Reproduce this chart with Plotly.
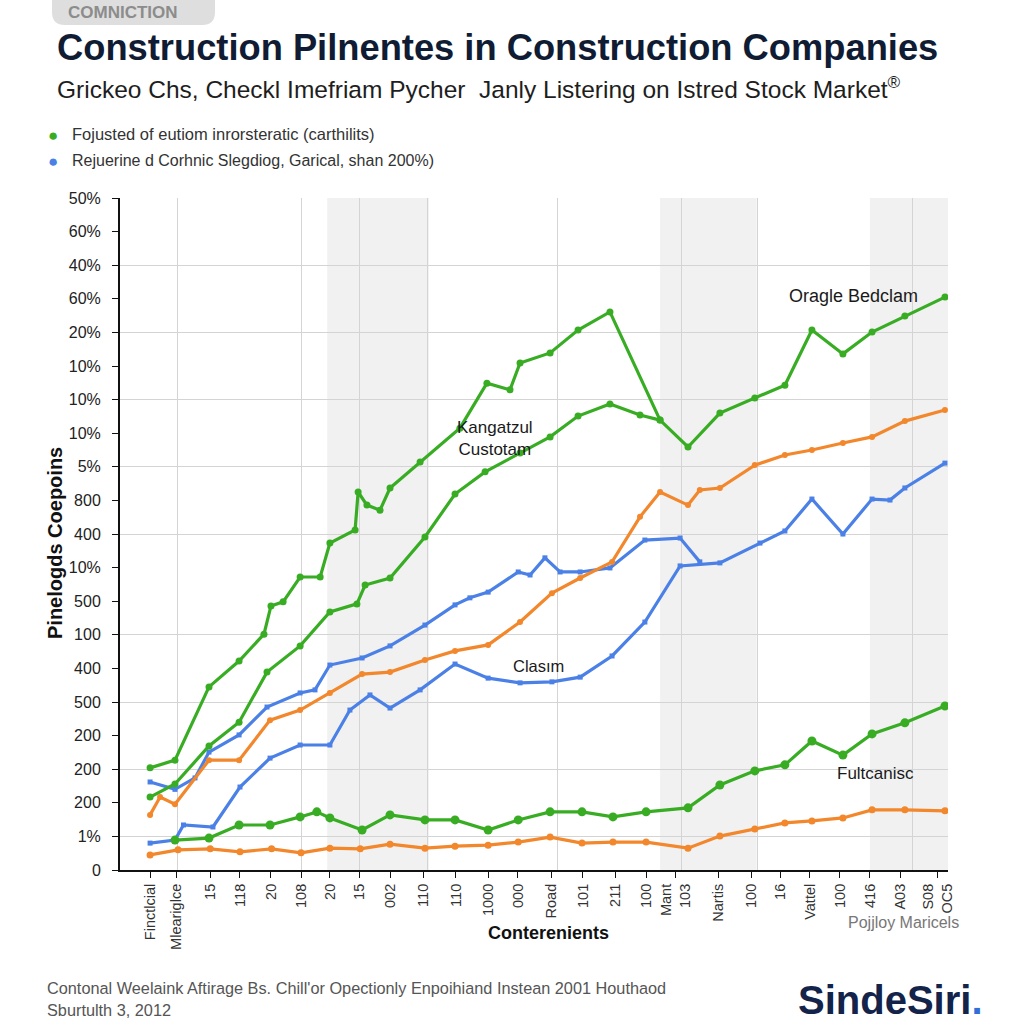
import plotly.graph_objects as go

# ---------------- data ----------------
y_tick_labels = ["0", "1%", "200", "200", "200", "500", "400", "100", "500", "10%", "400",
                 "800", "5%", "10%", "10%", "10%", "20%", "60%", "40%", "60%", "50%"]
y_tick_vals = list(range(21))
y_grid_vals = [1, 3, 5, 7, 10, 12, 14, 16, 18, 20]

x_tick_labels = ["Finctlcial", "Mleariglce", "15", "118", "20", "108", "20", "15", "002", "110",
                 "110", "1000", "000", "Road", "101", "211", "100", "Mant<br>103", "Nartis", "100",
                 "16", "Vattel", "100", "416", "A03", "S08<br>OC5"]
x_tick_vals = [0, 0.86, 1.98, 2.96, 3.98, 4.97, 5.92, 6.88, 7.90, 8.99, 10.07, 11.13, 12.11,
               13.20, 14.25, 15.31, 16.33, 17.31, 18.70, 19.81, 20.74, 21.72, 22.71, 23.70,
               24.69, 25.94]
x_grid_vals = [0.9, 5.0, 6.9, 9.15, 13.4, 17.5, 20.0, 25.1]
bands = [(5.83, 9.18), (16.79, 19.97), (23.70, 26.27)]

green1_x = [0, 0.82, 1.94, 2.93, 3.75, 3.98, 4.38, 4.94, 5.60, 5.92, 6.75, 6.85, 7.14, 7.57, 7.90,
            8.89, 10.2, 11.09, 11.85, 12.18, 13.17, 14.09, 15.14, 16.79, 17.71, 18.76, 19.91,
            20.9, 21.79, 22.81, 23.77, 24.85, 26.17]
green1_y = [3.04, 3.27, 5.45, 6.22, 7.02, 7.86, 7.98, 8.72, 8.72, 9.73, 10.12, 11.25, 10.86, 10.71,
            11.37, 12.14, 13.15, 14.49, 14.29, 15.09, 15.39, 16.07, 16.61, 13.39, 12.59, 13.6,
            14.05, 14.43, 16.07, 15.36, 16.01, 16.49, 17.05]

green2_x = [0, 0.82, 1.94, 2.93, 3.85, 4.94, 5.92, 6.81, 7.08, 7.90, 9.05, 10.04, 11.03, 12.18,
            13.17, 14.09, 15.14, 16.13, 16.79]
green2_y = [2.17, 2.56, 3.69, 4.40, 5.89, 6.67, 7.68, 7.92, 8.48, 8.69, 9.91, 11.19, 11.85, 12.41,
            12.89, 13.51, 13.87, 13.54, 13.39]

green3_x = [0.82, 1.94, 2.93, 3.95, 4.94, 5.49, 5.92, 6.98, 7.90, 9.05, 10.04, 11.13, 12.12,
            13.17, 14.22, 15.24, 16.33, 17.71, 18.76, 19.91, 20.9, 21.79, 22.81, 23.77, 24.85, 26.17]
green3_y = [0.89, 0.95, 1.34, 1.34, 1.58, 1.73, 1.55, 1.19, 1.64, 1.49, 1.49, 1.19, 1.49, 1.73,
            1.73, 1.58, 1.73, 1.85, 2.53, 2.95, 3.13, 3.84, 3.42, 4.05, 4.38, 4.88]

blue1_x = [0, 0.82, 1.48, 1.94, 2.93, 3.85, 4.94, 5.43, 5.92, 6.98, 7.90, 9.05, 10.04, 10.53,
           11.13, 12.12, 12.51, 13.0, 13.5, 14.16, 15.14, 16.29, 17.45, 18.1]
blue1_y = [2.62, 2.40, 2.74, 3.51, 4.02, 4.85, 5.27, 5.36, 6.10, 6.31, 6.67, 7.29, 7.89, 8.10,
           8.27, 8.87, 8.78, 9.29, 8.87, 8.87, 8.99, 9.82, 9.88, 9.17]

blue2_x = [0, 0.82, 1.10, 2.07, 2.96, 3.95, 4.94, 5.92, 6.58, 7.24, 7.90, 8.89, 10.04, 11.13,
           12.18, 13.23, 14.16, 15.21, 16.29, 17.45, 18.76, 20.08, 20.9, 21.79, 22.81, 23.77,
           24.36, 24.85, 26.17]
blue2_y = [0.80, 0.89, 1.34, 1.28, 2.47, 3.33, 3.72, 3.72, 4.76, 5.21, 4.82, 5.36, 6.13, 5.71,
           5.57, 5.60, 5.74, 6.37, 7.38, 9.05, 9.14, 9.73, 10.09, 11.04, 10.0, 11.04, 11.01,
           11.37, 12.11]

orange1_x = [0, 0.33, 0.82, 1.94, 2.93, 3.95, 4.94, 5.92, 6.98, 7.90, 9.05, 10.04, 11.13, 12.18,
             13.23, 14.16, 15.21, 16.13, 16.79, 17.71, 18.1, 18.76, 19.91, 20.9, 21.79, 22.81,
             23.77, 24.85, 26.17]
orange1_y = [1.64, 2.17, 1.96, 3.27, 3.27, 4.46, 4.76, 5.27, 5.83, 5.89, 6.25, 6.52, 6.70, 7.38,
             8.24, 8.69, 9.17, 10.51, 11.25, 10.86, 11.31, 11.37, 12.05, 12.35, 12.5, 12.71,
             12.89, 13.36, 13.69]

orange2_x = [0, 0.92, 1.98, 2.96, 4.0, 4.97, 5.92, 6.92, 7.90, 9.05, 10.04, 11.13, 12.12, 13.17,
             14.22, 15.24, 16.33, 17.71, 18.76, 19.91, 20.9, 21.79, 22.81, 23.77, 24.85, 26.17]
orange2_y = [0.45, 0.60, 0.63, 0.54, 0.63, 0.51, 0.65, 0.63, 0.77, 0.65, 0.71, 0.74, 0.83, 0.98,
             0.80, 0.83, 0.83, 0.65, 1.01, 1.22, 1.40, 1.46, 1.55, 1.79, 1.79, 1.76]

GREEN = "#38ad24"
BLUE = "#4b80e6"
ORANGE = "#f2872c"
FONT = "Liberation Sans, Arial"
NARROW = "Liberation Sans Narrow, Liberation Sans, Arial"

fig = go.Figure()

def add_line(xs, ys, color, symbol, size):
    fig.add_trace(go.Scatter(
        x=xs, y=ys, mode="lines+markers",
        line=dict(color=color, width=3.2),
        marker=dict(color=color, size=size, symbol=symbol),
        showlegend=False, hoverinfo="skip"))

add_line(orange2_x, orange2_y, ORANGE, "circle", 7)
add_line(blue2_x, blue2_y, BLUE, "square", 5)
add_line(blue1_x, blue1_y, BLUE, "square", 5)
add_line(orange1_x, orange1_y, ORANGE, "circle", 6)
add_line(green3_x, green3_y, GREEN, "circle", 9)
add_line(green2_x, green2_y, GREEN, "circle", 7)
add_line(green1_x, green1_y, GREEN, "circle", 7)

# shaded bands
for x0, x1 in bands:
    fig.add_shape(type="rect", xref="x", yref="paper", x0=x0, x1=x1, y0=0, y1=1,
                  fillcolor="rgba(225,225,225,0.45)", line=dict(width=0), layer="below")

# helpers for pixel -> paper (plot area: x 120..948, y 198..870)
def PX(p):
    return (p - 120) / 828.0

def PY(p):
    return (870 - p) / 672.0

ann = []
# header pill
fig.add_shape(type="path", xref="paper", yref="paper",
              path=(f"M {PX(52)},{PY(-6)} L {PX(215)},{PY(-6)} L {PX(215)},{PY(12)} "
                    f"Q {PX(215)},{PY(25)} {PX(202)},{PY(25)} L {PX(65)},{PY(25)} "
                    f"Q {PX(52)},{PY(25)} {PX(52)},{PY(12)} Z"),
              fillcolor="#dedede", line=dict(width=0))
ann.append(dict(text="<b>COMNICTION</b>", x=PX(123), y=PY(12), xanchor="center", yanchor="middle",
                font=dict(size=17, color="#8c8c8c", family=NARROW)))
ann.append(dict(text="<b>Construction Pilnentes in Construction Companies</b>", x=PX(55), y=PY(47),
                xanchor="left", yanchor="middle",
                font=dict(size=36.3, color="#0f1c33", family=FONT)))
ann.append(dict(text="Grickeo Chs, Checkl Imefriam Pycher  Janly Listering on Istred Stock Market<sup>®</sup>",
                x=PX(55), y=PY(87), xanchor="left", yanchor="middle",
                font=dict(size=24.5, color="#1e1e1e", family=FONT)))
# legend
ann.append(dict(text="●", x=PX(53), y=PY(135), xanchor="center", yanchor="middle",
                font=dict(size=17, color=GREEN)))
ann.append(dict(text="Fojusted of eutiom inrorsteratic (carthilits)", x=PX(70), y=PY(134),
                xanchor="left", yanchor="middle",
                font=dict(size=16.5, color="#333333", family=FONT)))
ann.append(dict(text="●", x=PX(53), y=PY(161), xanchor="center", yanchor="middle",
                font=dict(size=17, color=BLUE)))
ann.append(dict(text="Rejuerine d Corhnic Slegdiog, Garical, shan 200%)", x=PX(70), y=PY(160),
                xanchor="left", yanchor="middle",
                font=dict(size=16, color="#333333", family=FONT)))
# in-plot labels
ann.append(dict(text="Kangatzul<br>Custotam", x=PX(495), y=PY(438), xanchor="center",
                yanchor="middle",
                font=dict(size=17, color="#1a1a1a", family=FONT)))
ann.append(dict(text="Oragle Bedclam", x=PX(853), y=PY(296), xanchor="center", yanchor="middle",
                font=dict(size=18, color="#1a1a1a", family=FONT)))
ann.append(dict(text="Clasım", x=PX(538), y=PY(666), xanchor="center", yanchor="middle",
                font=dict(size=16.5, color="#1a1a1a", family=FONT)))
ann.append(dict(text="Fultcanisc", x=PX(875), y=PY(773), xanchor="center", yanchor="middle",
                font=dict(size=17, color="#1a1a1a", family=FONT)))
# axis titles
ann.append(dict(text="<b>Pinelogds Coepoins</b>", x=PX(55), y=PY(543), xanchor="center",
                yanchor="middle", textangle=-90,
                font=dict(size=20, color="#111111", family=FONT)))
ann.append(dict(text="<b>Conterenients</b>", x=PX(548), y=PY(933), xanchor="center",
                yanchor="middle",
                font=dict(size=18, color="#111111", family=FONT)))
ann.append(dict(text="Pojjloy Maricels", x=PX(903), y=PY(922), xanchor="center", yanchor="middle",
                font=dict(size=16, color="#777777", family=FONT)))
# footer
ann.append(dict(text="Contonal Weelaink Aftirage Bs. Chill'or Opectionly Enpoihiand Instean 2001 Houthaod",
                x=PX(45), y=PY(988), xanchor="left", yanchor="middle",
                font=dict(size=16.3, color="#555555", family=FONT)))
ann.append(dict(text="Sburtulth 3, 2012", x=PX(45), y=PY(1010), xanchor="left", yanchor="middle",
                font=dict(size=16.3, color="#555555", family=FONT)))
ann.append(dict(text="<b>SindeSiri</b><span style='color:#2f6fd6'><b>.</b></span>", x=PX(985),
                y=PY(1000), xanchor="right", yanchor="middle",
                font=dict(size=40, color="#13234a", family=FONT)))

for a in ann:
    a.setdefault("xref", "paper")
    a.setdefault("yref", "paper")
    a.setdefault("showarrow", False)

fig.update_layout(
    width=1024, height=1024,
    margin=dict(l=120, r=76, t=198, b=154),
    paper_bgcolor="white", plot_bgcolor="white",
    annotations=ann,
    font=dict(family=FONT, color="#222222"),
    xaxis=dict(
        range=[-0.99, 26.27], tickmode="array", tickvals=x_tick_vals, ticktext=x_tick_labels,
        tickangle=-90, tickfont=dict(size=14.5, color="#333333"),
        showgrid=False, zeroline=False,
        showline=True, linecolor="#111111", linewidth=2,
        ticks="outside", ticklen=6, tickcolor="#111111",
        minor=dict(tickmode="array", tickvals=x_grid_vals, showgrid=True,
                   gridcolor="#d4d4d4", gridwidth=1, ticks=""),
    ),
    yaxis=dict(
        range=[0, 20], tickmode="array", tickvals=y_tick_vals, ticktext=y_tick_labels,
        tickfont=dict(size=16, color="#222222"),
        showgrid=False, zeroline=False,
        showline=True, linecolor="#111111", linewidth=2,
        ticks="outside", ticklen=6, tickcolor="#111111", ticklabelstandoff=8,
        minor=dict(tickmode="array", tickvals=y_grid_vals, showgrid=True,
                   gridcolor="#d4d4d4", gridwidth=1, ticks=""),
    ),
)

fig.write_html("out.html", config={"displayModeBar": False},
               post_script="document.body.style.margin='0';document.body.style.padding='0';"
                           "document.documentElement.style.overflow='hidden';")
